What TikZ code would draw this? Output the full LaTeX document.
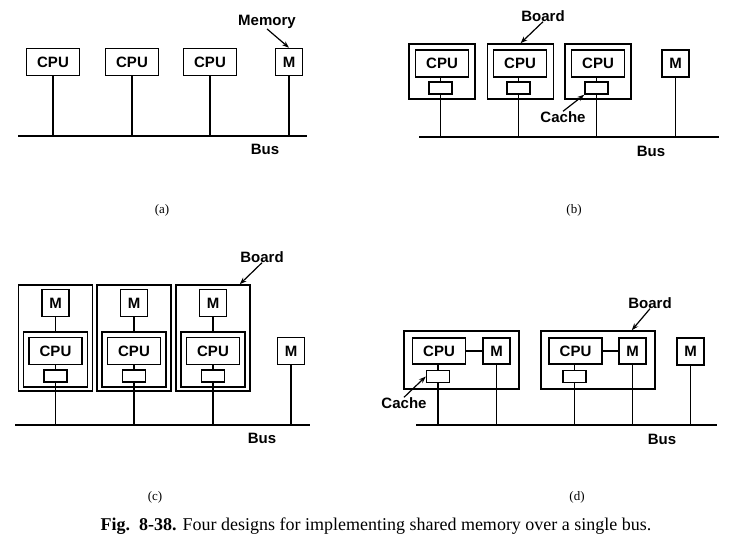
\documentclass[tikz,border=0pt]{standalone}
\usepackage{fontspec}
\setmainfont{Liberation Serif}
\setsansfont{Liberation Sans}
\usetikzlibrary{arrows.meta}

\tikzset{
  unit/.style={draw, line width=1.5pt, inner sep=0pt, font=\sffamily\bfseries\fontsize{15}{17}\selectfont},
  cpu/.style={unit, minimum width=53pt, minimum height=27pt},
  mem/.style={unit, minimum width=27pt, minimum height=27pt},
  cache/.style={unit, minimum width=23pt, minimum height=12pt},
  board/.style={draw, line width=1.5pt, inner sep=0pt},
  bus/.style={line width=1.8pt},
  wire/.style={line width=1.5pt},
  ptr/.style={-{Stealth[length=7pt,width=5pt]}, line width=1.2pt},
  lbl/.style={font=\sffamily\bfseries\fontsize{15}{17}\selectfont, inner sep=0pt},
  sub/.style={font=\fontsize{13}{15}\selectfont, inner sep=0pt}
}

\begin{document}
\begin{tikzpicture}[x=1pt, y=-1pt]
    \useasboundingbox (0,0) rectangle (733,548);

    % (a) CPUs and memory straight on the bus
    \node[cpu] (cpuA1) at (53,62) {CPU};
    \node[cpu] (cpuA2) at (132,62) {CPU};
    \node[cpu] (cpuA3) at (210,62) {CPU};
    \node[mem] (memA) at (289,62) {M};
    \coordinate (busAL) at (18,136);
    \coordinate (busAR) at (307,136);
    \draw[bus] (busAL) -- (busAR);
    \draw[wire] (cpuA1.south) -- (cpuA1.south |- busAL);
    \draw[wire] (cpuA2.south) -- (cpuA2.south |- busAL);
    \draw[wire] (cpuA3.south) -- (cpuA3.south |- busAL);
    \draw[wire] (memA.south) -- (memA.south |- busAL);
    \node[lbl] (busLblA) at (265,149) {Bus};
    \node[lbl] (memLbl) at (267,22) {Memory};
    \draw[ptr] (memLbl.south) -- (memA.north);
    \node[sub] (capA) at (162,210) {(a)};

    % (b) boards with a cache
    \begin{scope}[xshift=370pt]
        \node[board, minimum width=66pt, minimum height=55pt] (bdB1) at (72,71.5) {};
        \node[board, minimum width=66pt, minimum height=55pt] (bdB2) at (150.5,71.5) {};
        \node[board, minimum width=66pt, minimum height=55pt] (bdB3) at (228,71.5) {};
        \node[cpu] (cpuB1) at (72,63.5) {CPU};
        \node[cpu] (cpuB2) at (150,63.5) {CPU};
        \node[cpu] (cpuB3) at (228,63.5) {CPU};
        \node[cache] (chB1) at (70.5,88) {};
        \node[cache] (chB2) at (148.5,88) {};
        \node[cache] (chB3) at (226.5,88) {};
        \node[mem] (memB) at (305.5,63.5) {M};
        \coordinate (busBL) at (49,137);
        \coordinate (busBR) at (349,137);
        \draw[bus] (busBL) -- (busBR);
        \draw[wire] (chB1.north) -- (chB1.north |- cpuB1.south);
        \draw[wire] (chB2.north) -- (chB2.north |- cpuB2.south);
        \draw[wire] (chB3.north) -- (chB3.north |- cpuB3.south);
        \draw[wire] (chB1.south) -- (chB1.south |- busBL);
        \draw[wire] (chB2.south) -- (chB2.south |- busBL);
        \draw[wire] (chB3.south) -- (chB3.south |- busBL);
        \draw[wire] (memB.south) -- (memB.south |- busBL);
        \node[lbl] (busLblB) at (281,151) {Bus};
        \node[lbl] (bdLblB) at (173,16) {Board};
        \draw[ptr] (bdLblB.south) -- (bdB2.north);
        \node[lbl] (chLblB) at (193,117) {Cache};
        \draw[ptr] (chLblB.north) -- (chB3.south west);
        \node[sub] (capB) at (204,210) {(b)};
    \end{scope}

    % (c) boards with private memory
    \begin{scope}[yshift=-240pt]
        \node[board, minimum width=74pt, minimum height=106pt] (bdC1) at (55.5,98) {};
        \node[board, minimum width=74pt, minimum height=106pt] (bdC2) at (134,98) {};
        \node[board, minimum width=74pt, minimum height=106pt] (bdC3) at (213,98) {};
        \node[board, minimum width=64pt, minimum height=55pt] (ibC1) at (55.5,119.5) {};
        \node[board, minimum width=64pt, minimum height=55pt] (ibC2) at (134,119.5) {};
        \node[board, minimum width=64pt, minimum height=55pt] (ibC3) at (213,119.5) {};
        \node[mem] (memC1) at (55.5,63) {M};
        \node[mem] (memC2) at (134,63) {M};
        \node[mem] (memC3) at (213,63) {M};
        \node[cpu] (cpuC1) at (55.5,111) {CPU};
        \node[cpu] (cpuC2) at (134,111) {CPU};
        \node[cpu] (cpuC3) at (213,111) {CPU};
        \node[cache] (chC1) at (55.5,136) {};
        \node[cache] (chC2) at (134,136) {};
        \node[cache] (chC3) at (213,136) {};
        \node[mem] (memC) at (291,111) {M};
        \coordinate (busCL) at (15,185);
        \coordinate (busCR) at (310,185);
        \draw[bus] (busCL) -- (busCR);
        \draw[wire] (memC1.south) -- (memC1.south |- ibC1.north);
        \draw[wire] (memC2.south) -- (memC2.south |- ibC2.north);
        \draw[wire] (memC3.south) -- (memC3.south |- ibC3.north);
        \draw[wire] (chC1.north) -- (chC1.north |- cpuC1.south);
        \draw[wire] (chC2.north) -- (chC2.north |- cpuC2.south);
        \draw[wire] (chC3.north) -- (chC3.north |- cpuC3.south);
        \draw[wire] (chC1.south) -- (chC1.south |- busCL);
        \draw[wire] (chC2.south) -- (chC2.south |- busCL);
        \draw[wire] (chC3.south) -- (chC3.south |- busCL);
        \draw[wire] (memC.south) -- (memC.south |- busCL);
        \node[lbl] (busLblC) at (262,198) {Bus};
        \node[lbl] (bdLblC) at (262,17) {Board};
        \draw[ptr] (bdLblC.south) -- ([xshift=-11pt]bdC3.north east);
        \node[sub] (capC) at (155,257) {(c)};
    \end{scope}

    % (d) CPU and memory side by side on a board
    \begin{scope}[xshift=370pt, yshift=-240pt]
        \node[board, minimum width=115pt, minimum height=58pt] (bdD1) at (91.5,120) {};
        \node[board, minimum width=114pt, minimum height=58pt] (bdD2) at (228,120) {};
        \node[cpu, minimum height=26pt] (cpuD1) at (69,111) {CPU};
        \node[cpu, minimum height=26pt] (cpuD2) at (205.5,111) {CPU};
        \node[mem, minimum height=26pt] (memD1) at (126.5,111) {M};
        \node[mem, minimum height=26pt] (memD2) at (262.5,111) {M};
        \node[cache] (chD1) at (68,136.5) {};
        \node[cache] (chD2) at (204.5,136.5) {};
        \node[mem] (memD) at (320.5,111.5) {M};
        \coordinate (busDL) at (46,185);
        \coordinate (busDR) at (347,185);
        \draw[bus] (busDL) -- (busDR);
        \draw[wire] (cpuD1.east) -- (memD1.west);
        \draw[wire] (cpuD2.east) -- (memD2.west);
        \draw[wire] (chD1.north) -- (chD1.north |- cpuD1.south);
        \draw[wire] (chD2.north) -- (chD2.north |- cpuD2.south);
        \draw[wire] (chD1.south) -- (chD1.south |- busDL);
        \draw[wire] (chD2.south) -- (chD2.south |- busDL);
        \draw[wire] (memD1.south) -- (memD1.south |- busDL);
        \draw[wire] (memD2.south) -- (memD2.south |- busDL);
        \draw[wire] (memD.south) -- (memD.south |- busDL);
        \node[lbl] (busLblD) at (292,199) {Bus};
        \node[lbl] (bdLblD) at (280,63) {Board};
        \draw[ptr] (bdLblD.south) -- ([xshift=-24pt]bdD2.north east);
        \node[lbl] (chLblD) at (34,163) {Cache};
        \draw[ptr] (chLblD.north) -- (chD1.west);
        \node[sub] (capD) at (207,257) {(d)};
    \end{scope}

    % caption
    \node[font=\fontsize{18}{20}\selectfont, inner sep=0pt] (figCap) at (376,526)
        {\textbf{Fig.\ \ 8-38.} Four designs for implementing shared memory over a single bus.};
\end{tikzpicture}
\end{document}
